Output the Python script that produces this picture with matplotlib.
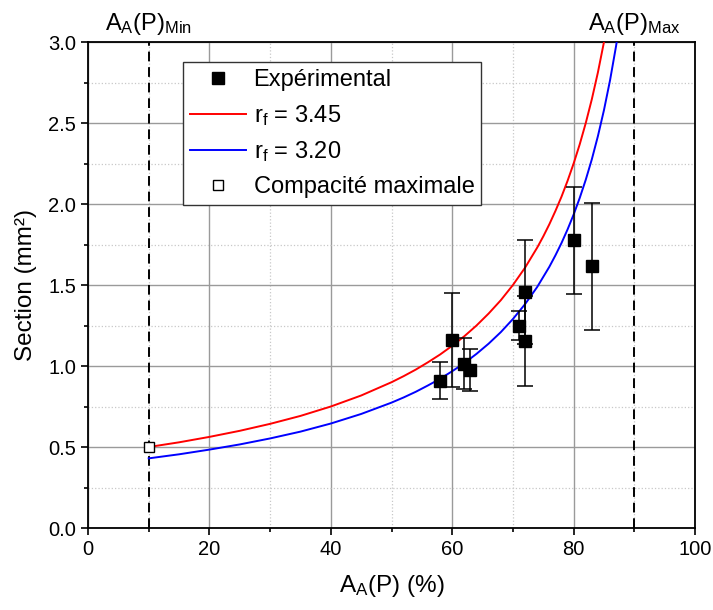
import matplotlib
matplotlib.use("Agg")
import matplotlib.pyplot as plt
from matplotlib.ticker import MultipleLocator, FormatStrFormatter

plt.rcParams['font.family'] = ['Liberation Sans', 'DejaVu Sans']
plt.rcParams['mathtext.fontset'] = 'custom'
plt.rcParams['mathtext.rm'] = 'Liberation Sans'
plt.rcParams['mathtext.it'] = 'Liberation Sans'

# points expérimentaux (A_A(P) en %, section en mm², barre d'erreur)
exp_x = [58, 60, 62, 63, 71, 72, 72, 80, 83]
exp_y = [0.91, 1.16, 1.015, 0.975, 1.25, 1.455, 1.155, 1.775, 1.615]
exp_err = [0.115, 0.29, 0.155, 0.13, 0.09, 0.32, 0.28, 0.33, 0.39]

# courbe r_f = 3.45
red_x = [10, 15, 20, 25, 30, 35, 40, 45, 50, 52, 54, 56, 58, 60, 62, 64, 66,
         68, 70, 72, 74, 75, 76, 77, 78, 79, 80, 81, 82, 83, 84, 85, 86]
red_y = [0.50, 0.529, 0.5625, 0.60, 0.643, 0.692, 0.75, 0.818, 0.90, 0.9375,
         0.978, 1.023, 1.071, 1.125, 1.184, 1.25, 1.324, 1.406, 1.50, 1.607,
         1.731, 1.80, 1.875, 1.957, 2.045, 2.143, 2.25, 2.368, 2.50, 2.647,
         2.8125, 3.00, 3.214]

# courbe r_f = 3.20
blue_x = [10, 15, 20, 25, 30, 35, 40, 45, 50, 52, 54, 56, 58, 60, 62, 64, 66,
          68, 70, 72, 74, 76, 77, 78, 79, 80, 81, 82, 83, 84, 85, 86, 87, 88]
blue_y = [0.43, 0.455, 0.484, 0.516, 0.553, 0.595, 0.645, 0.704, 0.774, 0.806,
          0.841, 0.880, 0.921, 0.968, 1.018, 1.075, 1.138, 1.209, 1.29, 1.382,
          1.488, 1.6125, 1.683, 1.759, 1.843, 1.935, 2.037, 2.15, 2.276, 2.419,
          2.58, 2.764, 2.977, 3.225]

# compacité maximale et bornes
cmax_x = [10]
cmax_y = [0.5]
a_min = 10
a_max = 90

fig = plt.figure(figsize=(7.13, 6.10), dpi=100)
ax = fig.add_axes([0.1234, 0.1344, 0.8514, 0.7967])

ax.set_xlim(0, 100)
ax.set_ylim(0, 3.0)
ax.xaxis.set_major_locator(MultipleLocator(20))
ax.xaxis.set_minor_locator(MultipleLocator(10))
ax.yaxis.set_major_locator(MultipleLocator(0.5))
ax.yaxis.set_minor_locator(MultipleLocator(0.25))
ax.yaxis.set_major_formatter(FormatStrFormatter('%.1f'))

ax.grid(which='major', color='#9a9a9a', linewidth=1.0, linestyle='-')
ax.grid(which='minor', color='#c8c8c8', linewidth=0.9, linestyle=':')
ax.set_axisbelow(True)

ax.tick_params(which='major', direction='out', length=5, width=1.2,
               labelsize=14.5, top=False, right=False)
ax.tick_params(which='minor', direction='out', length=3, width=1.2,
               top=False, right=False)
for s in ax.spines.values():
    s.set_linewidth(1.3)

# bornes min / max
ax.axvline(a_min, color='black', linestyle=(0, (5, 3)), linewidth=1.4, zorder=2)
ax.axvline(a_max, color='black', linestyle=(0, (5, 3)), linewidth=1.4, zorder=2)

l_red, = ax.plot(red_x, red_y, color='red', linewidth=1.4, zorder=3)
l_blue, = ax.plot(blue_x, blue_y, color='blue', linewidth=1.4, zorder=3)

eb = ax.errorbar(exp_x, exp_y, yerr=exp_err, fmt='s', color='black', markersize=9,
                 ecolor='black', elinewidth=1.1, capsize=6, capthick=1.1, zorder=4)
l_cmax, = ax.plot(cmax_x, cmax_y, 's', markerfacecolor='white', markeredgecolor='black',
                  markersize=7, markeredgewidth=1.0, linestyle='none', zorder=5)

leg = ax.legend([eb[0], l_red, l_blue, l_cmax],
                ['Expérimental', r'$\mathregular{r_f}$ = 3.45',
                 r'$\mathregular{r_f}$ = 3.20', 'Compacité maximale'],
                loc='upper left', bbox_to_anchor=(0.156, 0.959),
                fontsize=17, frameon=True, fancybox=False, framealpha=1,
                edgecolor='#333333', borderpad=0.3, labelspacing=0.5,
                handlelength=2.4, handletextpad=0.3, borderaxespad=0)
leg.get_frame().set_linewidth(1.0)

ax.text(a_min, 3.03, r'$\mathregular{A_A(P)_{Min}}$', ha='center', va='bottom',
        fontsize=17, clip_on=False)
ax.text(a_max, 3.03, r'$\mathregular{A_A(P)_{Max}}$', ha='center', va='bottom',
        fontsize=17, clip_on=False)

ax.set_xlabel(r'$\mathregular{A_A(P)}$ (%)', fontsize=17.5, labelpad=10)
ax.set_ylabel('Section (mm²)', fontsize=17.5, labelpad=8)

fig.savefig('out.png', dpi=100)
